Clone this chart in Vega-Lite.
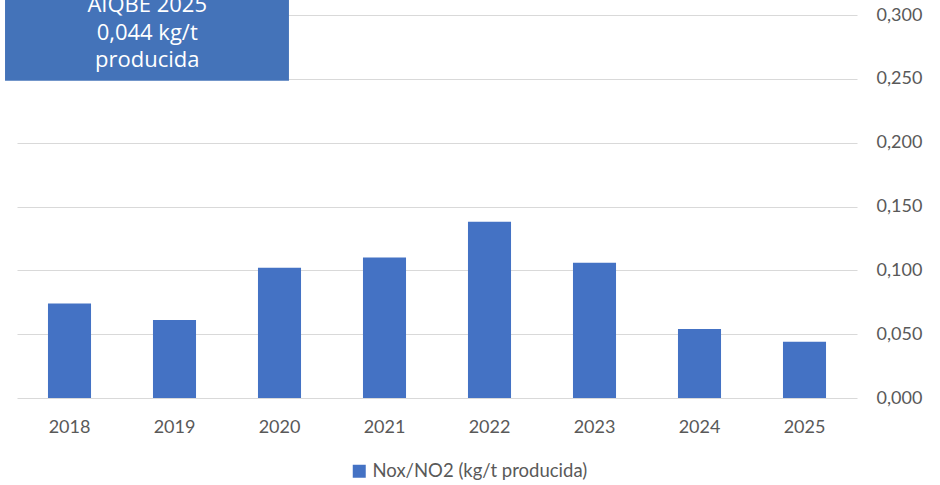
{
  "$schema": "https://vega.github.io/schema/vega-lite/v6.json",
  "autosize": {"type": "none"},
  "width": 840,
  "height": 383,
  "padding": {"left": 17, "top": 15, "right": 83, "bottom": 87},
  "background": "#ffffff",
  "config": {"view": {"stroke": null}, "font": "Lato"},
  "datasets": {
    "bars": [
      {"year": "2018", "value": 0.074, "serie": "Nox/NO2 (kg/t producida)"},
      {"year": "2019", "value": 0.061, "serie": "Nox/NO2 (kg/t producida)"},
      {"year": "2020", "value": 0.102, "serie": "Nox/NO2 (kg/t producida)"},
      {"year": "2021", "value": 0.110, "serie": "Nox/NO2 (kg/t producida)"},
      {"year": "2022", "value": 0.138, "serie": "Nox/NO2 (kg/t producida)"},
      {"year": "2023", "value": 0.106, "serie": "Nox/NO2 (kg/t producida)"},
      {"year": "2024", "value": 0.054, "serie": "Nox/NO2 (kg/t producida)"},
      {"year": "2025", "value": 0.044, "serie": "Nox/NO2 (kg/t producida)"}
    ],
    "box": [{"x1": 2017.386, "x2": 2020.09, "y1": 0.2485, "y2": 0.32}],
    "boxtext": [
      {"x": 2018.74, "y": 0.3078, "label": "AIQBE 2025"},
      {"x": 2018.74, "y": 0.2858, "label": "0,044 kg/t"},
      {"x": 2018.74, "y": 0.2647, "label": "producida"}
    ]
  },
  "layer": [
    {
      "data": {"name": "bars"},
      "mark": {"type": "bar", "color": "#4472c4"},
      "encoding": {
        "x": {
          "field": "year", "type": "ordinal",
          "scale": {"paddingInner": 0.59, "paddingOuter": 0.295},
          "axis": {"title": null, "domain": false, "ticks": false, "labelAngle": 0, "labelPadding": 20, "labelFontSize": 18, "labelColor": "#595959", "labelFont": "Lato"}
        },
        "y": {
          "field": "value", "type": "quantitative",
          "scale": {"domain": [0, 0.3]},
          "axis": {"title": null, "orient": "right", "domain": false, "ticks": false, "values": [0, 0.05, 0.1, 0.15, 0.2, 0.25, 0.3], "labelExpr": "replace(format(datum.value, '.3f'), '.', ',')", "labelPadding": 19, "labelFontSize": 18, "labelColor": "#595959", "labelFont": "Lato", "gridColor": "#d9d9d9", "gridWidth": 1}
        },
        "color": {
          "field": "serie", "type": "nominal",
          "scale": {"range": ["#4472c4"]},
          "legend": {"title": null, "orient": "none", "legendX": 333, "legendY": 447, "symbolType": "square", "symbolSize": 169, "symbolOpacity": 1, "labelOffset": 4, "labelFontSize": 18.5, "labelColor": "#595959", "labelFont": "Lato", "labelLimit": 500}
        }
      }
    },
    {
      "data": {"name": "box"},
      "mark": {"type": "rect", "color": "#4473b9", "clip": false},
      "encoding": {
        "x": {"field": "x1", "type": "quantitative", "scale": {"domain": [2017.5, 2025.5], "nice": false, "zero": false}, "axis": null},
        "x2": {"field": "x2"},
        "y": {"field": "y1", "type": "quantitative", "title": null},
        "y2": {"field": "y2"}
      }
    },
    {
      "data": {"name": "boxtext"},
      "mark": {"type": "text", "color": "#ffffff", "fontSize": 22, "font": "Open Sans", "baseline": "middle", "align": "center", "clip": false},
      "encoding": {
        "x": {"field": "x", "type": "quantitative", "scale": {"domain": [2017.5, 2025.5], "nice": false, "zero": false}, "axis": null},
        "y": {"field": "y", "type": "quantitative", "title": null},
        "text": {"field": "label"}
      }
    }
  ],
  "resolve": {"scale": {"x": "independent"}}
}
